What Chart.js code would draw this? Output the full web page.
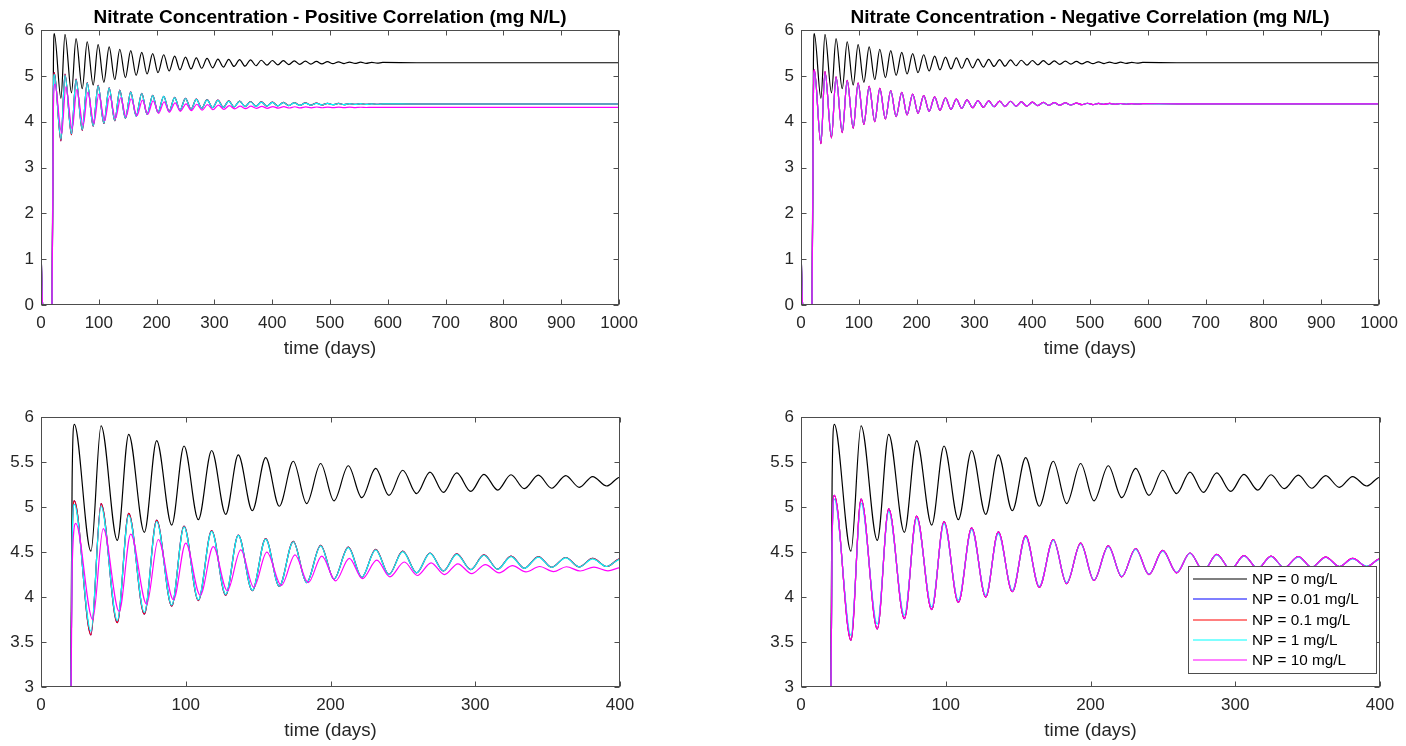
<!DOCTYPE html>
<html><head><meta charset="utf-8">
<script src="https://cdn.jsdelivr.net/npm/chart.js@4/dist/chart.umd.min.js"></script>
<style>
html,body{margin:0;padding:0;background:#fff;overflow:hidden;width:1406px;height:746px;}
canvas{position:absolute;display:block;}
</style></head><body>
<canvas id="c1" width="646" height="364" style="left:0;top:0;width:646px;height:364px"></canvas>
<canvas id="c2" width="646" height="364" style="left:760px;top:0;width:646px;height:364px"></canvas>
<canvas id="c3" width="646" height="346" style="left:0;top:400px;width:646px;height:346px"></canvas>
<canvas id="c4" width="646" height="346" style="left:760px;top:400px;width:646px;height:346px"></canvas>
<script>
// ---- data (days and nitrate values) ----
const seriesLabels = ['NP = 0 mg/L', 'NP = 0.01 mg/L', 'NP = 0.1 mg/L', 'NP = 1 mg/L', 'NP = 10 mg/L'];

const tDays = [0, 3, 19, 21.5, 23, 34.5, 41.5, 52.7, 60.6, 71.4, 79.9, 90.3, 98.8, 108.7, 117.9, 127.6, 136.3, 146, 155.2, 164.6, 174.3, 183.5, 193.2, 202.4, 212.3, 221.6, 231.2, 240.4, 249.9, 259.5, 268.7, 278, 287.2, 296.9, 306, 315.5, 324.7, 333.9, 343.6, 352.8, 362.5, 371.9, 381.1, 390.8, 400.2, 409.6, 419.3, 428.6, 438.2, 447.6, 457.3, 466.8, 476.4, 485.9, 495.5, 505, 514.7, 524.2, 533.8, 543.3, 552.9, 562.5, 572, 581.6, 591.2, 650, 1000];

const posMagDays = [0, 3, 19, 21.5, 24, 35.7, 43, 54, 62, 73, 81, 91.5, 100, 110, 119, 128.7, 138, 147, 156, 166, 175.5, 184.6, 194, 203.5, 213, 222, 232, 241, 251, 260, 269.5, 278.7, 288, 297.5, 307, 316.5, 325.7, 335, 344.5, 354, 363, 372.5, 382, 391.7, 401, 410.5, 420, 429.5, 439, 448.5, 458, 467.5, 477, 486.5, 496, 505.5, 515, 524.5, 534, 543.5, 553, 562.5, 572, 581.5, 591, 650, 1000];

const blackNP0 = [1.25, 0, 0, 5.3, 5.92, 4.51, 5.905, 4.63, 5.81, 4.72, 5.74, 4.80, 5.68, 4.86, 5.63, 4.92, 5.58, 4.96, 5.55, 5.01, 5.51, 5.04, 5.485, 5.07, 5.46, 5.105, 5.43, 5.13, 5.41, 5.15, 5.39, 5.165, 5.38, 5.175, 5.365, 5.19, 5.36, 5.205, 5.355, 5.21, 5.35, 5.22, 5.34, 5.235, 5.335, 5.24, 5.33, 5.245, 5.325, 5.25, 5.32, 5.255, 5.315, 5.26, 5.31, 5.265, 5.305, 5.268, 5.30, 5.27, 5.298, 5.273, 5.295, 5.276, 5.292, 5.285, 5.285];

const posRed = [1.25, 0, 0, 4.6, 5.07, 3.58, 5.04, 3.715, 4.93, 3.81, 4.855, 3.90, 4.79, 3.96, 4.74, 4.02, 4.69, 4.07, 4.65, 4.12, 4.62, 4.16, 4.575, 4.20, 4.555, 4.22, 4.53, 4.25, 4.51, 4.27, 4.49, 4.29, 4.48, 4.305, 4.47, 4.31, 4.455, 4.32, 4.45, 4.33, 4.44, 4.335, 4.43, 4.34, 4.425, 4.345, 4.42, 4.35, 4.415, 4.355, 4.41, 4.36, 4.405, 4.365, 4.40, 4.37, 4.398, 4.373, 4.395, 4.376, 4.393, 4.378, 4.391, 4.38, 4.39, 4.385, 4.385];
const posBlue = posRed;
const posCyan = [1.25, 0, 0, 4.6, 5.03, 3.62, 5.01, 3.74, 4.91, 3.83, 4.84, 3.91, 4.78, 3.97, 4.73, 4.03, 4.685, 4.075, 4.645, 4.12, 4.615, 4.16, 4.57, 4.20, 4.55, 4.22, 4.525, 4.25, 4.505, 4.27, 4.485, 4.29, 4.475, 4.305, 4.465, 4.31, 4.45, 4.32, 4.445, 4.33, 4.435, 4.335, 4.425, 4.34, 4.42, 4.345, 4.415, 4.35, 4.41, 4.355, 4.405, 4.36, 4.40, 4.365, 4.398, 4.37, 4.396, 4.373, 4.394, 4.376, 4.392, 4.378, 4.39, 4.38, 4.389, 4.385, 4.385];
const posMagenta = [1.25, 0, 0, 4.3, 4.82, 3.75, 4.76, 3.84, 4.70, 3.92, 4.64, 3.97, 4.60, 4.02, 4.56, 4.07, 4.525, 4.11, 4.50, 4.13, 4.47, 4.16, 4.455, 4.18, 4.43, 4.205, 4.41, 4.225, 4.39, 4.24, 4.38, 4.25, 4.37, 4.26, 4.36, 4.27, 4.35, 4.28, 4.34, 4.283, 4.337, 4.29, 4.333, 4.292, 4.33, 4.295, 4.327, 4.298, 4.325, 4.30, 4.322, 4.302, 4.32, 4.304, 4.318, 4.306, 4.317, 4.307, 4.316, 4.308, 4.315, 4.309, 4.314, 4.31, 4.313, 4.312, 4.312];

const negMagenta = [1.25, 0, 0, 4.6, 5.13, 3.52, 5.09, 3.645, 4.98, 3.76, 4.90, 3.86, 4.84, 3.94, 4.77, 4.00, 4.725, 4.06, 4.68, 4.11, 4.64, 4.15, 4.60, 4.185, 4.57, 4.225, 4.54, 4.25, 4.52, 4.27, 4.49, 4.29, 4.475, 4.305, 4.46, 4.315, 4.455, 4.325, 4.45, 4.33, 4.445, 4.34, 4.43, 4.34, 4.425, 4.35, 4.42, 4.355, 4.415, 4.36, 4.41, 4.365, 4.405, 4.37, 4.402, 4.373, 4.40, 4.376, 4.398, 4.378, 4.396, 4.38, 4.394, 4.382, 4.392, 4.39, 4.39];
const negRed = negMagenta;
const negBlue = negMagenta;
const negCyan = [1.25, 0, 0, 4.6, 5.09, 3.575, 5.045, 3.70, 4.95, 3.80, 4.875, 3.89, 4.815, 3.965, 4.75, 4.02, 4.705, 4.075, 4.665, 4.12, 4.63, 4.16, 4.59, 4.19, 4.56, 4.23, 4.53, 4.255, 4.51, 4.275, 4.485, 4.295, 4.47, 4.31, 4.455, 4.32, 4.45, 4.328, 4.445, 4.333, 4.44, 4.34, 4.425, 4.345, 4.42, 4.352, 4.415, 4.357, 4.41, 4.362, 4.406, 4.367, 4.402, 4.371, 4.399, 4.374, 4.397, 4.377, 4.395, 4.379, 4.394, 4.381, 4.393, 4.383, 4.391, 4.388, 4.388];

const seriesColors = ['#000000', '#0000ff', '#ff0000', '#00ffff', '#ff00ff'];
const FONT = "'Liberation Sans', Arial, Helvetica, sans-serif";

function pts(days, vals) { return days.map((d, i) => ({x: d, y: vals[i]})); }

function makeDatasets(sets) {
  return sets.map((s, i) => ({
    label: seriesLabels[i],
    data: pts(s[0], s[1]),
    borderColor: seriesColors[i],
    borderWidth: 1.2,
    pointRadius: 0,
    fill: false,
    order: sets.length - 1 - i,
    cubicInterpolationMode: 'monotone'
  }));
}

const posSets = [[tDays, blackNP0], [tDays, posBlue], [tDays, posRed], [tDays, posCyan], [posMagDays, posMagenta]];
const negSets = [[tDays, blackNP0], [tDays, negBlue], [tDays, negRed], [tDays, negCyan], [tDays, negMagenta]];

const frameColor = '#4d4d4d';
const matlabFrame = {
  id: 'matlabFrame',
  afterDatasetsDraw(chart) {
    const {ctx, chartArea: a, scales: {x, y}} = chart;
    ctx.save();
    ctx.strokeStyle = frameColor; ctx.lineWidth = 1;
    const L = Math.round(a.left) + 0.5, R = Math.round(a.right) - 0.5, T = Math.round(a.top) + 0.5, B = Math.round(a.bottom) - 0.5;
    ctx.beginPath();
    x.ticks.forEach(t => { const px = Math.round(x.getPixelForValue(t.value)) + 0.5; ctx.moveTo(px, B); ctx.lineTo(px, B - 5); ctx.moveTo(px, T); ctx.lineTo(px, T + 5); });
    y.ticks.forEach(t => { const py = Math.round(y.getPixelForValue(t.value)) + 0.5; ctx.moveTo(L, py); ctx.lineTo(L + 5, py); ctx.moveTo(R, py); ctx.lineTo(R - 5, py); });
    ctx.stroke();
    ctx.strokeRect(L, T, R - L, B - T);
    ctx.restore();
  }
};

const boxLegend = {
  id: 'boxLegend',
  afterDraw(chart, args, opts) {
    if (!opts || !opts.show) return;
    const {ctx, chartArea: a} = chart;
    const w = 188, h = 107;
    const x0 = Math.round(a.right - 4 - w), y0 = Math.round(a.bottom - 14 - h);
    ctx.save();
    ctx.fillStyle = '#fff'; ctx.fillRect(x0, y0, w, h);
    ctx.strokeStyle = frameColor; ctx.lineWidth = 1; ctx.strokeRect(x0 + 0.5, y0 + 0.5, w, h);
    ctx.font = '15.3px ' + FONT; ctx.textBaseline = 'middle'; ctx.textAlign = 'left';
    chart.data.datasets.forEach((ds, i) => {
      const yy = Math.round(y0 + 13 + i * 20.3);
      ctx.strokeStyle = ds.borderColor; ctx.lineWidth = 1.2;
      ctx.beginPath(); ctx.moveTo(x0 + 5, yy); ctx.lineTo(x0 + 59, yy); ctx.stroke();
      ctx.fillStyle = '#000';
      ctx.fillText(ds.label, x0 + 64, yy + 1);
    });
    ctx.restore();
  }
};

const plainNum = v => String(Math.round(v * 100) / 100);

function makeChart(id, sets, cfg) {
  return new Chart(document.getElementById(id), {
    type: 'line',
    data: {datasets: makeDatasets(sets)},
    options: {
      responsive: false,
      animation: false,
      events: [],
      layout: {padding: {top: cfg.padTop, right: cfg.padRight, left: 0, bottom: 0}},
      plugins: {
        legend: {display: false},
        tooltip: {enabled: false},
        title: {
          display: !!cfg.title, text: cfg.title || '', fullSize: false, color: '#000',
          font: {family: FONT, size: 19, weight: 'bold', lineHeight: 1},
          padding: {top: 8, bottom: 3}
        },
        boxLegend: {show: !!cfg.legend}
      },
      scales: {
        x: {
          type: 'linear', min: 0, max: cfg.xmax,
          grid: {display: false, drawTicks: false}, border: {display: false},
          ticks: {stepSize: 100, autoSkip: false, maxRotation: 0, padding: 8, color: '#262626', font: {family: FONT, size: 17}, callback: plainNum},
          title: {display: true, text: 'time (days)', color: '#262626', font: {family: FONT, size: 18.7}, padding: {top: 4, bottom: 4}},
          afterFit(s) { s.height = 59; }
        },
        y: {
          type: 'linear', min: cfg.ymin, max: cfg.ymax,
          grid: {display: false, drawTicks: false}, border: {display: false},
          ticks: {stepSize: cfg.ystep, padding: 7, color: '#262626', font: {family: FONT, size: 17}, callback: plainNum},
          afterFit(s) { s.width = 41; }
        }
      }
    },
    plugins: [matlabFrame, boxLegend]
  });
}

makeChart('c1', posSets, {title: 'Nitrate Concentration - Positive Correlation (mg N/L)', xmax: 1000, ymin: 0, ymax: 6, ystep: 1, padTop: 0, padRight: 25});
makeChart('c2', negSets, {title: 'Nitrate Concentration - Negative Correlation (mg N/L)', xmax: 1000, ymin: 0, ymax: 6, ystep: 1, padTop: 0, padRight: 25});
makeChart('c3', posSets, {xmax: 400, ymin: 3, ymax: 6, ystep: 0.5, padTop: 12, padRight: 26});
makeChart('c4', negSets, {xmax: 400, ymin: 3, ymax: 6, ystep: 0.5, padTop: 12, padRight: 26, legend: true});
</script>
</body></html>
